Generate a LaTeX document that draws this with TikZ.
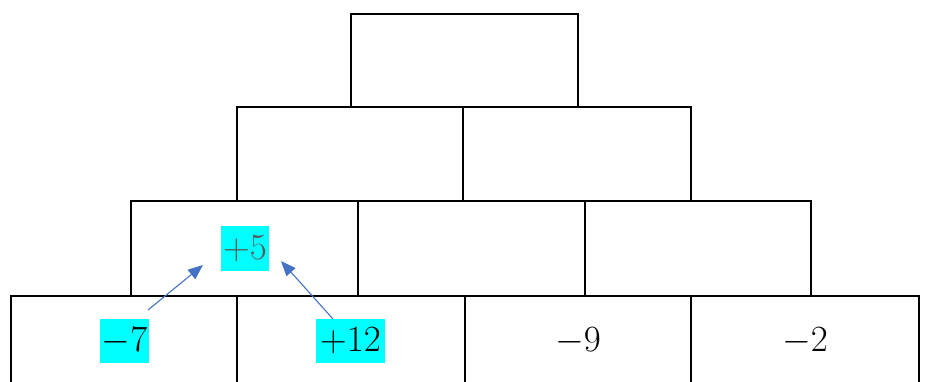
\RequirePackage{fix-cm}
\documentclass[tikz,border=0pt]{standalone}
\usetikzlibrary{arrows.meta}
\definecolor{hlcyan}{RGB}{0,255,255}
\definecolor{arrblue}{RGB}{68,114,196}
\definecolor{darkgr}{RGB}{89,89,89}
\begin{document}
\begin{tikzpicture}[x=1pt,y=-1pt,
  cell/.style={draw=black,line width=2pt,rectangle,inner sep=0pt,minimum height=#1},
  num/.style={font=\fontsize{37}{42}\selectfont,inner sep=1pt,text=black},
  hl/.style={fill=hlcyan},
  conn/.style={draw=arrblue,line width=1.1pt,-{Triangle[length=15pt,width=12pt]}}]
\useasboundingbox (0,0) rectangle (928,381);
\clip (0,0) rectangle (928,381);
% top
\node[cell=93pt,minimum width=227pt] (t) at (464.5,60.5) {};
% row 2
\node[cell=94pt,minimum width=226pt] (r2a) at (350,154) {};
\node[cell=94pt,minimum width=228pt] (r2b) at (577,154) {};
% row 3
\node[cell=95pt,minimum width=227pt] (r3a) at (244.5,248.5) {};
\node[cell=95pt,minimum width=227pt] (r3b) at (471.5,248.5) {};
\node[cell=95pt,minimum width=226pt] (r3c) at (698,248.5) {};
% row 4 (cut off at bottom)
\node[cell=110pt,minimum width=226pt] (r4a) at (124,351) {};
\node[cell=110pt,minimum width=228pt] (r4b) at (351,351) {};
\node[cell=110pt,minimum width=226pt] (r4c) at (578,351) {};
\node[cell=110pt,minimum width=228pt] (r4d) at (805,351) {};
% labels
\node[num,hl,text=darkgr,minimum height=45pt,minimum width=48pt] (p5) at (245,248.5) {$+5$};
\node[num,hl,minimum height=44pt,minimum width=49pt] (m7) at (124.5,341) {$-7$};
\node[num,hl,minimum height=44pt,minimum width=69pt] (p12) at (350.5,341) {$+12$};
\node[num] (m9) at (578,341) {$-9$};
\node[num] (m2) at (805,341) {$-2$};
% arrows
\coordinate (a1s) at (148,310);
\coordinate (a1e) at (203,265);
\coordinate (a2s) at (333,319);
\coordinate (a2e) at (281,261);
\draw[conn] (a1s) -- (a1e);
\draw[conn] (a2s) -- (a2e);
\end{tikzpicture}
\end{document}
